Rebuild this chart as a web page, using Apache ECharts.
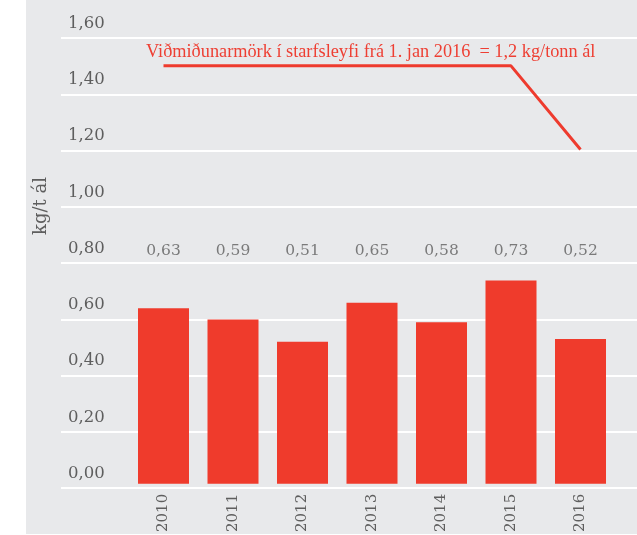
<!DOCTYPE html>
<html><head><meta charset="utf-8">
<script src="https://cdn.jsdelivr.net/npm/echarts@6/dist/echarts.min.js"></script>
<style>html,body{margin:0;padding:0;background:#fff}#c{width:637px;height:535px}</style>
</head><body><div id="c"></div>
<script>
const years = ['2010', '2011', '2012', '2013', '2014', '2015', '2016'];
const values = [0.63, 0.59, 0.51, 0.65, 0.58, 0.73, 0.52];
const limitLine = [1.5, 1.5, 1.5, 1.5, 1.5, 1.5, 1.2];
const limitText = 'Viðmiðunarmörk í starfsleyfi frá 1. jan 2016  = 1,2 kg/tonn ál';
const yMin = 0, yMax = 1.6, yStep = 0.2;
const labelRowY = 0.8;
const yTitle = 'kg/t ál';

const TXT = '#5e5e5e';
const RED = '#ef3b2c';
const NUMFONT = 'DejaVu Serif';
const fmt = v => v.toFixed(2).replace('.', ',');

const chart = echarts.init(document.getElementById('c'), null, {renderer: 'canvas'});
chart.setOption({
  backgroundColor: '#ffffff',
  animation: false,
  graphic: [
    {type: 'rect', z: -10, shape: {x: 26, y: 0, width: 611, height: 534}, style: {fill: '#e8e9eb'}},
    {type: 'text', z: 10, x: 146, y: 52, style: {text: limitText, fill: '#ee3f33', font: '18.3px "Liberation Serif"', verticalAlign: 'middle'}},
    {type: 'text', z: 10, x: 41, y: 206, rotation: Math.PI / 2,
     style: {text: yTitle, fill: TXT, font: '18px "DejaVu Serif"', align: 'center', verticalAlign: 'middle'}}
  ],
  grid: [
    {left: 61, right: 0, top: 38, bottom: 47},
    {left: 128.75, right: 21.75, top: 38, bottom: 47}
  ],
  xAxis: [
    {gridIndex: 0, type: 'value', min: 0, max: 1, show: false},
    {gridIndex: 1, type: 'category', data: years,
     axisLine: {show: false}, axisTick: {show: false},
     axisLabel: {rotate: 90, margin: 10, color: TXT, fontFamily: NUMFONT, fontSize: 15}}
  ],
  yAxis: [
    {gridIndex: 0, type: 'value', min: yMin, max: yMax, interval: yStep,
     axisLine: {show: false}, axisTick: {show: false},
     axisLabel: {inside: true, formatter: fmt, align: 'left', verticalAlign: 'bottom',
                 margin: 7, padding: [0, 0, 6, 0], color: TXT, fontFamily: NUMFONT, fontSize: 16.5},
     splitLine: {show: true, lineStyle: {color: '#ffffff', width: 2}}},
    {gridIndex: 1, type: 'value', min: yMin, max: yMax, interval: yStep, show: false, splitLine: {show: false}}
  ],
  series: [
    {type: 'bar', xAxisIndex: 1, yAxisIndex: 1, data: values, barWidth: 51,
     itemStyle: {color: RED}},
    {type: 'line', xAxisIndex: 1, yAxisIndex: 1, data: limitLine, symbol: 'none',
     lineStyle: {color: '#ee3b2e', width: 3}, z: 5},
    {type: 'scatter', xAxisIndex: 1, yAxisIndex: 1, symbolSize: 0,
     data: values.map((v, i) => [i, labelRowY]),
     label: {show: true, position: 'top', distance: 2, formatter: p => fmt(values[p.dataIndex]),
             color: TXT, fontFamily: NUMFONT, fontSize: 15.5}}
  ]
});
</script></body></html>
